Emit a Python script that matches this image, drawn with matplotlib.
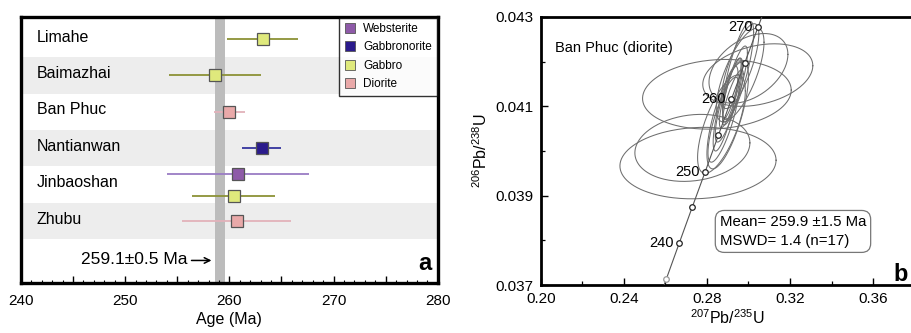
import numpy as np
import matplotlib
matplotlib.use("Agg")
import matplotlib.pyplot as plt
from matplotlib.ticker import MultipleLocator, FuncFormatter, FixedLocator

plt.rcParams['font.family'] = ['Liberation Sans', 'DejaVu Sans']
plt.rcParams['mathtext.fontset'] = 'custom'
plt.rcParams['mathtext.rm'] = 'Liberation Sans'
plt.rcParams['mathtext.it'] = 'Liberation Sans:italic'

# ---------------- Panel a data ----------------
localities = ["Limahe", "Baimazhai", "Ban Phuc", "Nantianwan", "Jinbaoshan", "Zhubu"]
rock_types = ["Websterite", "Gabbronorite", "Gabbro", "Diorite"]
fill_colors = ["#8e5aa8", "#2b1b8c", "#dfe97c", "#e9a9a9"]
line_colors = ["#9a7cc4", "#34349e", "#8c9236", "#e2b2ba"]

pt_locality = ["Limahe", "Baimazhai", "Ban Phuc", "Nantianwan", "Jinbaoshan", "Jinbaoshan", "Zhubu"]
pt_rock = ["Gabbro", "Gabbro", "Diorite", "Gabbronorite", "Websterite", "Gabbro", "Diorite"]
pt_age = [263.2, 258.6, 260.0, 263.1, 260.8, 260.4, 260.7]
pt_err = [3.4, 4.4, 1.5, 1.9, 6.8, 4.0, 5.2]
pt_offset = [0.0, 0.0, 0.0, 0.0, 0.3, -0.3, 0.0]

mean_age = 259.1
mean_err = 0.5
mean_label = "259.1±0.5 Ma"

# ---------------- Panel b data ----------------
conc_ages = [233, 235, 240, 245, 250, 255, 260, 265, 270, 272]
conc_x = [0.2580, 0.2604, 0.2666, 0.2729, 0.2792, 0.2855, 0.2918, 0.2982, 0.3046, 0.3072]
conc_y = [0.03681, 0.03713, 0.03793, 0.03874, 0.03954, 0.04035, 0.04116, 0.04197, 0.04277, 0.04310]
conc_labelled = [240, 250, 260, 270]
conc_marked = [235, 240, 245, 250, 255, 260, 265, 270]

ell_x = [0.2848, 0.2757, 0.2730, 0.3045, 0.3000, 0.2870, 0.2900, 0.2960, 0.2960,
         0.2905, 0.2915, 0.2920, 0.2890, 0.2935, 0.2880, 0.2950, 0.2925]
ell_y = [0.04127, 0.03973, 0.04007, 0.04170, 0.04185, 0.04060, 0.04080, 0.04170, 0.04190,
         0.04110, 0.04130, 0.04140, 0.04095, 0.04150, 0.04070, 0.04180, 0.04120]
ell_sx = [0.0358, 0.0376, 0.0277, 0.0265, 0.0190, 0.0115, 0.0100, 0.0115, 0.0090,
          0.0065, 0.0055, 0.0045, 0.0060, 0.0060, 0.0075, 0.0075, 0.0050]
ell_sy = [0.00078, 0.00080, 0.00075, 0.00070, 0.00078, 0.00110, 0.00120, 0.00105, 0.00095,
          0.00090, 0.00078, 0.00068, 0.00095, 0.00085, 0.00095, 0.00110, 0.00062]
ell_rho = [0.12, 0.08, 0.15, 0.30, 0.40, 0.68, 0.72, 0.70, 0.75,
           0.82, 0.84, 0.85, 0.80, 0.82, 0.78, 0.78, 0.84]

stats_text = "Mean= 259.9 ±1.5 Ma\nMSWD= 1.4 (n=17)"
sample_label = "Ban Phuc (diorite)"
b_yticks = [0.037, 0.039, 0.041, 0.043]
b_yminor = [0.038, 0.040, 0.042]

# ---------------- Figure ----------------
fig = plt.figure(figsize=(9.12, 3.33), dpi=100)

# ===== Panel a =====
axa = fig.add_axes([0.023, 0.150, 0.457, 0.799])
row_h = 1.0
bottom_pad = 1.2
ytop = 7.3
axa.set_xlim(240, 280)
axa.set_ylim(0, ytop)

row_center = {}
for i, loc in enumerate(reversed(localities)):
    y0 = bottom_pad + i * row_h
    row_center[loc] = y0 + row_h / 2
    if i % 2 == 0:
        axa.axhspan(y0, y0 + row_h, color="#ededed", zorder=0, lw=0)

axa.axvspan(mean_age - mean_err, mean_age + mean_err, color="#bcbcbc", zorder=1, lw=0)

for loc in localities:
    axa.text(241.5, row_center[loc] + 0.05, loc, fontsize=11.5, va="center", ha="left", zorder=5)

for loc, rock, age, err, off in zip(pt_locality, pt_rock, pt_age, pt_err, pt_offset):
    k = rock_types.index(rock)
    yy = row_center[loc] + off
    axa.errorbar(age, yy, xerr=err, fmt="none", ecolor=line_colors[k], elinewidth=1.3, capsize=0, zorder=3)
    axa.plot(age, yy, marker="s", ms=8, mfc=fill_colors[k], mec="#555555", mew=0.9, ls="none", zorder=4)

for k, rock in enumerate(rock_types):
    axa.plot([], [], marker="s", ms=7, mfc=fill_colors[k], mec="#555555", mew=0.6, ls="none", label=rock)
leg = axa.legend(loc="upper right", borderaxespad=0.05, fontsize=8.5, frameon=True, fancybox=False,
                 edgecolor="black", handlelength=1.0, handletextpad=0.6, labelspacing=0.55,
                 borderpad=0.45)
leg.get_frame().set_linewidth(1.0)
leg.set_zorder(10)

axa.annotate("", xy=(mean_age - mean_err - 0.05, 0.62), xytext=(256.1, 0.62),
             arrowprops=dict(arrowstyle="->", color="black", lw=1.1), zorder=6)
axa.text(256.0, 0.64, mean_label, fontsize=12.5, ha="right", va="center")
axa.text(0.985, 0.03, "a", transform=axa.transAxes, fontsize=17, fontweight="bold", ha="right", va="bottom")

axa.xaxis.set_major_locator(MultipleLocator(5))
axa.xaxis.set_minor_locator(MultipleLocator(1))
axa.xaxis.set_major_formatter(FuncFormatter(lambda v, p: f"{int(round(v))}" if int(round(v)) % 10 == 0 else ""))
axa.tick_params(axis="x", which="major", direction="in", length=5, width=1.0, labelsize=11, pad=8)
axa.tick_params(axis="x", which="minor", direction="in", length=2.5, width=0.8)
axa.set_yticks([])
axa.set_xlabel("Age (Ma)", fontsize=11.5, labelpad=3)
for s in axa.spines.values():
    s.set_linewidth(2.4)

# ===== Panel b =====
axb = fig.add_axes([0.593, 0.144, 0.4098, 0.805])
axb.set_xlim(0.20, 0.38)
axb.set_ylim(0.037, 0.043)

t = np.linspace(0, 2 * np.pi, 200)
for cx, cy, sx, sy, r in zip(ell_x, ell_y, ell_sx, ell_sy, ell_rho):
    ex = cx + sx * np.cos(t)
    ey = cy + sy * (r * np.cos(t) + np.sqrt(1 - r * r) * np.sin(t))
    axb.plot(ex, ey, color="#6e6e6e", lw=0.75, zorder=2)

axb.plot(conc_x, conc_y, color="#555555", lw=0.8, zorder=3)
for a, x, y in zip(conc_ages, conc_x, conc_y):
    if a in conc_marked:
        col = "#999999" if a == 235 else "#222222"
        axb.plot(x, y, marker="o", ms=4, mfc="white", mec=col, mew=0.9, zorder=4, clip_on=False)
    if a in conc_labelled:
        axb.annotate(str(a), (x, y), xytext=(-4, 0), textcoords="offset points",
                     ha="right", va="center", fontsize=10.5, zorder=5)

axb.text(0.2067, 0.0423, sample_label, fontsize=10.5, ha="left", va="center")
axb.text(0.2862, 0.03820, stats_text, fontsize=10.8, ha="left", va="center", linespacing=1.45,
         bbox=dict(boxstyle="round,pad=0.3,rounding_size=0.6", fc="white", ec="#777777", lw=0.9))
fig.text(0.988, 0.175, "b", fontsize=17, fontweight="bold", ha="center", va="center")

axb.xaxis.set_major_locator(MultipleLocator(0.04))
axb.xaxis.set_minor_locator(MultipleLocator(0.02))
axb.yaxis.set_major_locator(FixedLocator(b_yticks))
axb.yaxis.set_minor_locator(FixedLocator(b_yminor))
axb.xaxis.set_major_formatter(FuncFormatter(lambda v, p: f"{v:.2f}"))
axb.yaxis.set_major_formatter(FuncFormatter(lambda v, p: f"{v:.3f}"))
axb.tick_params(which="major", direction="in", length=5, width=1.0, labelsize=11, pad=5)
axb.tick_params(which="minor", direction="in", length=3, width=0.9)
axb.set_xlabel(r"$^{207}$Pb/$^{235}$U", fontsize=11.5, labelpad=2)
axb.set_ylabel(r"$^{206}$Pb/$^{238}$U", fontsize=11.5, labelpad=4)
for s in axb.spines.values():
    s.set_linewidth(2.0)

fig.savefig("out.png", dpi=100)
